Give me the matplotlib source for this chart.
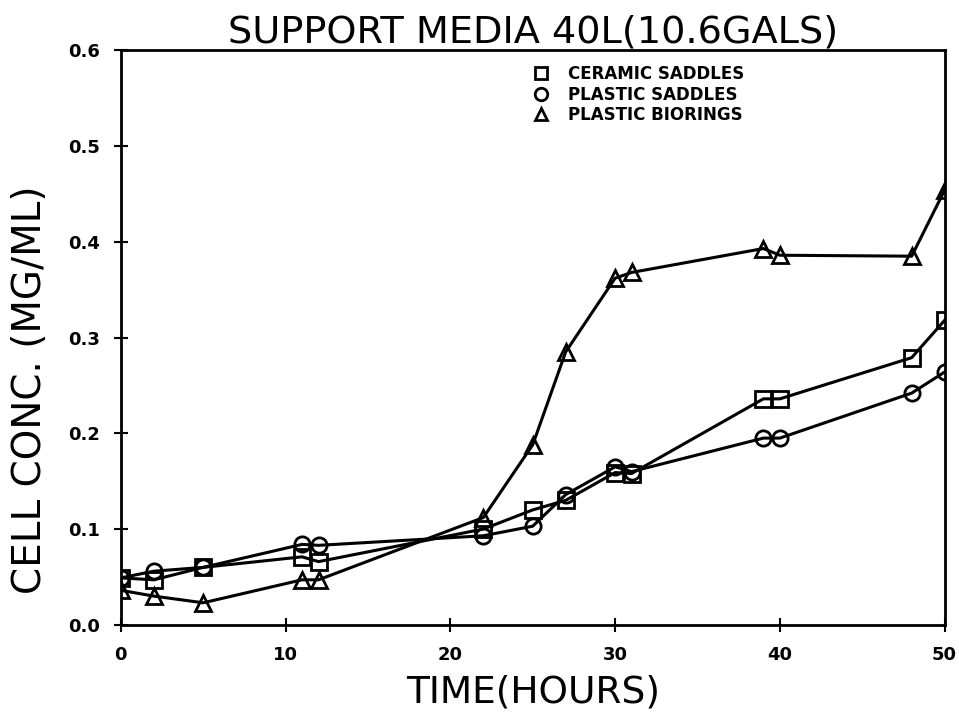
import numpy as np
from matplotlib import pyplot as plt

# time points (hours)
time = [0, 2, 5, 11, 12, 22, 25, 27, 30, 31, 39, 40, 48, 50]

ceramic_saddles = [0.049, 0.047, 0.060, 0.071, 0.066, 0.100, 0.120, 0.130, 0.159, 0.158, 0.236, 0.236, 0.279, 0.318]
plastic_saddles = [0.049, 0.056, 0.060, 0.084, 0.083, 0.093, 0.103, 0.136, 0.165, 0.160, 0.195, 0.195, 0.242, 0.264]
plastic_biorings = [0.036, 0.030, 0.023, 0.047, 0.047, 0.112, 0.188, 0.285, 0.362, 0.368, 0.393, 0.386, 0.385, 0.454]

labels = ["CERAMIC SADDLES", "PLASTIC SADDLES", "PLASTIC BIORINGS"]
markers = ["s", "o", "^"]

xticks = [0, 10, 20, 30, 40, 50]
yticks = [0.0, 0.1, 0.2, 0.3, 0.4, 0.5, 0.6]

fig = plt.figure(figsize=(9.59, 7.19), dpi=100)
ax = fig.add_axes([0.126, 0.131, 0.859, 0.799])

for series, lab, m in zip([ceramic_saddles, plastic_saddles, plastic_biorings], labels, markers):
    ax.plot(time, series, color="black", lw=2.2, marker=m, markersize=11,
            markerfacecolor="none", markeredgecolor="black", markeredgewidth=2, label=lab)

ax.set_xlim(0, 50)
ax.set_ylim(0, 0.6)
ax.set_xticks(xticks)
ax.set_yticks(yticks)
ax.set_xticklabels([str(t) for t in xticks], fontsize=13, fontweight="bold")
ax.set_yticklabels(["%.1f" % t for t in yticks], fontsize=13, fontweight="bold")
ax.tick_params(direction="inout", length=10, width=1.5, pad=10)
for s in ax.spines.values():
    s.set_linewidth(2)

ax.set_title("SUPPORT MEDIA 40L(10.6GALS)", fontsize=27.5, pad=5)
ax.set_xlabel("TIME(HOURS)", fontsize=27, labelpad=8)
ax.set_ylabel("CELL CONC. (MG/ML)", fontsize=28)
ax.yaxis.set_label_coords(-0.087, 0.41)

leg = ax.legend(loc="upper left", bbox_to_anchor=(0.48, 1.0), frameon=False,
                handlelength=1.2, numpoints=1, labelspacing=0.15, handletextpad=1.0,
                prop={"size": 12, "weight": "bold"})
for line in leg.get_lines():
    line.set_linestyle("none")
    line.set_markersize(9)

fig.savefig("out.png", dpi=100)
